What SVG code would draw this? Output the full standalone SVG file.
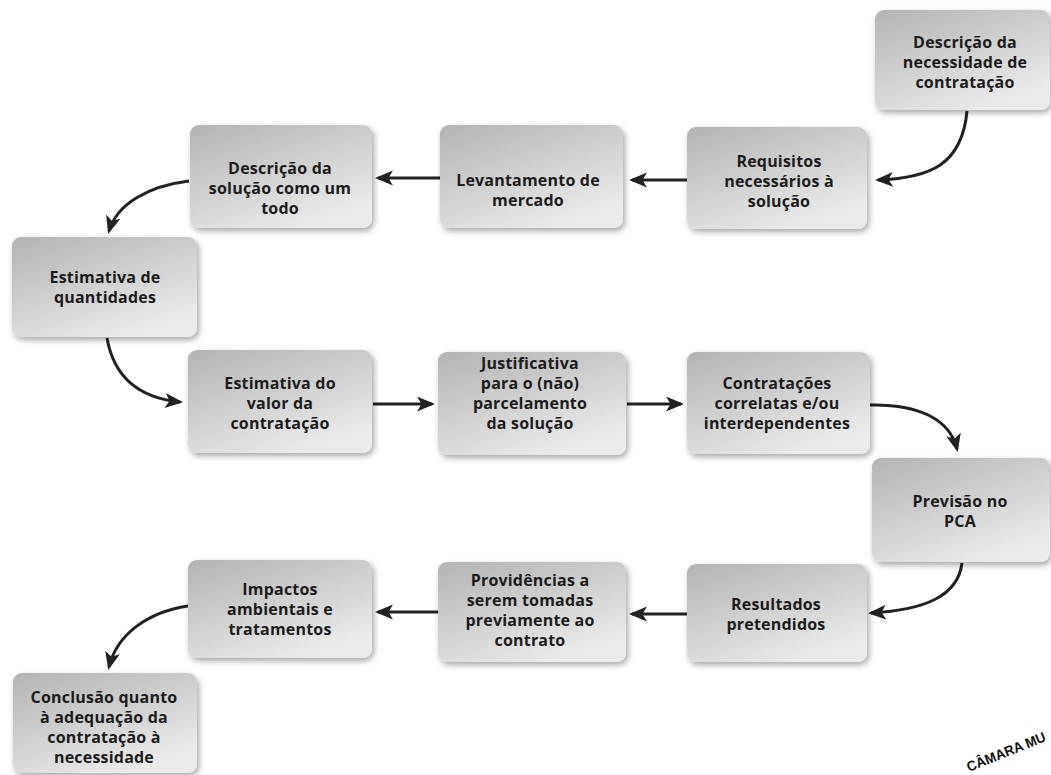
<svg xmlns="http://www.w3.org/2000/svg" width="1051" height="775" viewBox="0 0 1051 775">
<defs>
<linearGradient id="g" x1="0" y1="0" x2="0.6" y2="1">
<stop offset="0" stop-color="#b4b4b4"/>
<stop offset="0.5" stop-color="#cecece"/>
<stop offset="1" stop-color="#ebebeb"/>
</linearGradient>
<filter id="sh" x="-10%" y="-10%" width="125%" height="130%">
<feGaussianBlur in="SourceAlpha" stdDeviation="3"/>
<feOffset dx="2" dy="3"/>
<feComponentTransfer><feFuncA type="linear" slope="0.35"/></feComponentTransfer>
<feMerge><feMergeNode/><feMergeNode in="SourceGraphic"/></feMerge>
</filter>
<marker id="ah" markerWidth="7" markerHeight="6" refX="5" refY="2.5" orient="auto" markerUnits="strokeWidth">
<path d="M0,0 L6,2.5 L0,5 L1.5,2.5 z" fill="#222"/>
</marker>
</defs>
<style>
.n rect{fill:url(#g);filter:url(#sh);}
.n text{font-family:"Open Sans","DejaVu Sans",sans-serif;font-weight:bold;font-size:16px;letter-spacing:0.2px;fill:#1c1c1c;text-anchor:middle;}
#connectors path{fill:none;stroke:#222;stroke-width:3;marker-end:url(#ah);}
.stamp{font-family:"Liberation Sans",sans-serif;font-weight:bold;font-size:14px;fill:#111;}
</style>
<rect width="1051" height="775" fill="#fff"/>
<g id="connectors">
<path d="M967 111 C962 165 930 178 878 180"/>
<path d="M687 180 L632 180"/>
<path d="M440 178 L378 178"/>
<path d="M189 181 C148 186 117 204 109 231"/>
<path d="M107 338 C114 378 140 398 180 402"/>
<path d="M373 404 L432 404"/>
<path d="M627 404 L681 404"/>
<path d="M870 405 C920 404 950 420 957 449"/>
<path d="M962 563 C958 596 925 610 871 613"/>
<path d="M687 614 L632 614"/>
<path d="M438 612 L378 612"/>
<path d="M188 606 C148 612 117 634 109 667"/>
</g>
<g id="n1" class="n"><rect x="875" y="10" width="175" height="100" rx="9"/><text x="965" y="48">Descrição da</text><text x="965" y="68">necessidade de</text><text x="965" y="88">contratação</text></g>
<g id="n2" class="n"><rect x="687" y="127" width="180" height="102" rx="9"/><text x="779" y="167">Requisitos</text><text x="779" y="187">necessários à</text><text x="779" y="207">solução</text></g>
<g id="n3" class="n"><rect x="440" y="125" width="183" height="103" rx="9"/><text x="528" y="186">Levantamento de</text><text x="528" y="206">mercado</text></g>
<g id="n4" class="n"><rect x="190" y="125" width="182" height="103" rx="9"/><text x="280" y="174">Descrição da</text><text x="280" y="194">solução como um</text><text x="280" y="214">todo</text></g>
<g id="n5" class="n"><rect x="12" y="237" width="185" height="100" rx="9"/><text x="105" y="283">Estimativa de</text><text x="105" y="303">quantidades</text></g>
<g id="n6" class="n"><rect x="188" y="350" width="184" height="103" rx="9"/><text x="280" y="389">Estimativa do</text><text x="280" y="409">valor da</text><text x="280" y="429">contratação</text></g>
<g id="n7" class="n"><rect x="438" y="352" width="188" height="103" rx="9"/><text x="530" y="369">Justificativa</text><text x="530" y="389">para o (não)</text><text x="530" y="409">parcelamento</text><text x="530" y="429">da solução</text></g>
<g id="n8" class="n"><rect x="687" y="352" width="183" height="102" rx="9"/><text x="777" y="389">Contratações</text><text x="777" y="409">correlatas e/ou</text><text x="777" y="429">interdependentes</text></g>
<g id="n9" class="n"><rect x="872" y="458" width="178" height="104" rx="9"/><text x="960" y="507">Previsão no</text><text x="960" y="527">PCA</text></g>
<g id="n10" class="n"><rect x="687" y="564" width="180" height="98" rx="9"/><text x="776" y="610">Resultados</text><text x="776" y="630">pretendidos</text></g>
<g id="n11" class="n"><rect x="438" y="562" width="188" height="100" rx="9"/><text x="530" y="586">Providências a</text><text x="530" y="606">serem tomadas</text><text x="530" y="626">previamente ao</text><text x="530" y="646">contrato</text></g>
<g id="n12" class="n"><rect x="188" y="560" width="184" height="98" rx="9"/><text x="280" y="595">Impactos</text><text x="280" y="615">ambientais e</text><text x="280" y="635">tratamentos</text></g>
<g id="n13" class="n"><rect x="13" y="673" width="184" height="100" rx="9"/><text x="104" y="703">Conclusão quanto</text><text x="104" y="723">à adequação da</text><text x="104" y="743">contratação à</text><text x="104" y="763">necessidade</text></g>
<text class="stamp" transform="translate(969 772) rotate(-22)" textLength="84" lengthAdjust="spacingAndGlyphs">CÂMARA MU</text>
</svg>
